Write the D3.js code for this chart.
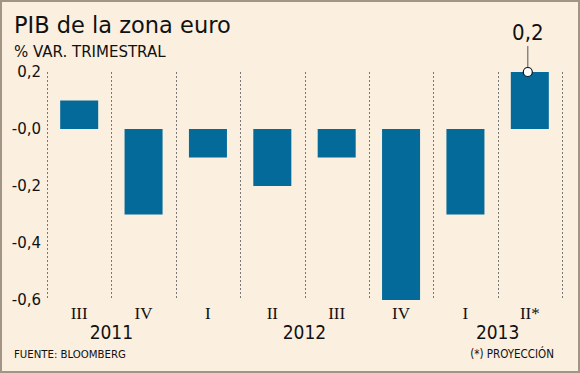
<!DOCTYPE html>
<html>
<head>
<meta charset="utf-8">
<script src="https://cdn.jsdelivr.net/npm/d3@7"></script>
<style>
    body { margin: 0; background: #fbefdf; }
    svg { display: block; }
</style>
</head>
<body>
<div id="chart"></div>
<script>
"use strict";

// data
var quarters = ["III", "IV", "I", "II", "III", "IV", "I", "II*"];
var values = [0.1, -0.3, -0.1, -0.2, -0.1, -0.6, -0.3, 0.2];
var years = [
    {label: "2011", first: 0, last: 1},
    {label: "2012", first: 2, last: 5},
    {label: "2013", first: 6, last: 7}
];
var yTicks = [0.2, 0, -0.2, -0.4, -0.6];
var yTickLabels = ["0,2", "-0,0", "-0,2", "-0,4", "-0,6"];
var highlight = {index: 7, label: "0,2"};

var width = 580, height = 373;
var margin = {top: 72, right: 18, bottom: 73, left: 47};
var sans = "'DejaVu Sans', sans-serif";
var narrow = "'DejaVu Sans Condensed', 'DejaVu Sans', sans-serif";

var svg = d3.select("#chart").append("svg")
    .attr("width", width)
    .attr("height", height);

// frame
svg.append("rect")
    .attr("x", 1).attr("y", 1)
    .attr("width", width - 2).attr("height", height - 2)
    .attr("fill", "#fbefdf")
    .attr("stroke", "#a39585")
    .attr("stroke-width", 2);

var x = d3.scaleBand()
    .domain(d3.range(quarters.length))
    .range([margin.left, width - margin.right])
    .paddingInner(0)
    .paddingOuter(0);

var y = d3.scaleLinear()
    .domain([-0.6, 0.2])
    .range([height - margin.bottom, margin.top]);

// titles
svg.append("text")
    .attr("x", 14).attr("y", 33)
    .style("font-family", sans)
    .style("font-size", "22.5px")
    .attr("fill", "#111")
    .text("PIB de la zona euro");

svg.append("text")
    .attr("x", 14).attr("y", 57)
    .style("font-family", sans)
    .style("font-size", "15px")
    .attr("fill", "#111")
    .text("% VAR. TRIMESTRAL");

// dotted separators between quarters
var seps = d3.range(quarters.length + 1).map(function (i) {
    return i < quarters.length ? x(i) : x(i - 1) + x.bandwidth();
});
svg.append("g").selectAll("line")
    .data(seps)
    .join("line")
    .attr("x1", function (d) { return Math.round(d) + 0.5; })
    .attr("x2", function (d) { return Math.round(d) + 0.5; })
    .attr("y1", y(0.2))
    .attr("y2", y(-0.6))
    .attr("stroke", "#777")
    .attr("stroke-width", 1)
    .attr("stroke-dasharray", "2,2");

// y axis labels
var yAxis = d3.axisLeft(y)
    .tickValues(yTicks)
    .tickSize(0)
    .tickPadding(6)
    .tickFormat(function (d, i) { return yTickLabels[i]; });

svg.append("g")
    .attr("transform", "translate(" + margin.left + ",0)")
    .call(yAxis)
    .call(function (g) { g.select(".domain").remove(); })
    .selectAll("text")
    .style("font-family", sans)
    .style("font-size", "15px")
    .attr("fill", "#111");

// bars
var barW = 38;
svg.append("g").selectAll("rect")
    .data(values)
    .join("rect")
    .attr("x", function (d, i) { return x(i) + (x.bandwidth() - barW) / 2; })
    .attr("y", function (d) { return y(Math.max(0, d)); })
    .attr("width", barW)
    .attr("height", function (d) { return Math.abs(y(d) - y(0)); })
    .attr("fill", "#036a99");

// quarter labels
var xAxis = d3.axisBottom(x)
    .tickSize(0)
    .tickPadding(6)
    .tickFormat(function (i) { return quarters[i]; });

svg.append("g")
    .attr("transform", "translate(0," + y(-0.6) + ")")
    .call(xAxis)
    .call(function (g) { g.select(".domain").remove(); })
    .selectAll("text")
    .attr("dy", 0)
    .attr("y", 19)
    .style("font-family", "'Liberation Serif', 'Times New Roman', serif")
    .style("font-size", "17px")
    .attr("fill", "#111");

// year labels centred under their quarters
svg.append("g").selectAll("text")
    .data(years)
    .join("text")
    .attr("x", function (d) { return (x(d.first) + x(d.last) + x.bandwidth()) / 2; })
    .attr("y", 339)
    .attr("text-anchor", "middle")
    .style("font-family", narrow)
    .style("font-size", "19px")
    .attr("fill", "#111")
    .text(function (d) { return d.label; });

// callout on the projected quarter
var hx = x(highlight.index) + x.bandwidth() / 2 - 2;
var hy = y(values[highlight.index]);
svg.append("line")
    .attr("x1", hx).attr("x2", hx)
    .attr("y1", hy).attr("y2", hy - 26)
    .attr("stroke", "#555")
    .attr("stroke-width", 1);
svg.append("circle")
    .attr("cx", hx).attr("cy", hy)
    .attr("r", 4.5)
    .attr("fill", "#fff")
    .attr("stroke", "#111")
    .attr("stroke-width", 1.2);
svg.append("text")
    .attr("x", hx).attr("y", 40)
    .attr("text-anchor", "middle")
    .style("font-family", narrow)
    .style("font-size", "22px")
    .attr("fill", "#111")
    .text(highlight.label);

// footer
svg.append("text")
    .attr("x", 14).attr("y", 358)
    .style("font-family", narrow)
    .style("font-size", "11.3px")
    .attr("fill", "#111")
    .text("FUENTE: BLOOMBERG");

svg.append("text")
    .attr("x", 554).attr("y", 358)
    .attr("text-anchor", "end")
    .style("font-family", narrow)
    .style("font-size", "11.5px")
    .attr("fill", "#111")
    .text("(*) PROYECCIÓN");
</script>
</body>
</html>
